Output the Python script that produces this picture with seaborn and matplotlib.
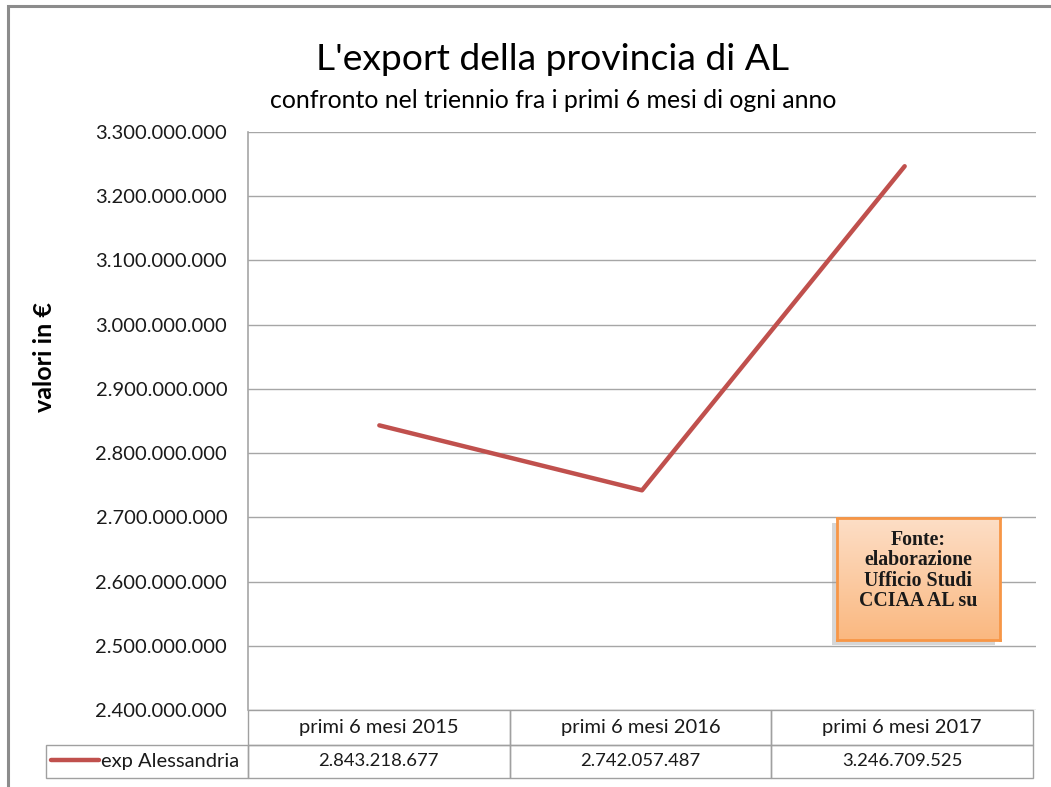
import matplotlib
matplotlib.use("Agg")
import matplotlib.pyplot as plt
import matplotlib.patches as mpatches
from matplotlib.ticker import FuncFormatter, MultipleLocator
import numpy as np
import pandas as pd
import seaborn as sns

# ---- data ----
categories = ["primi 6 mesi 2015", "primi 6 mesi 2016", "primi 6 mesi 2017"]
series_name = "exp Alessandria"
values = [2843218677, 2742057487, 3246709525]
title = "L'export della provincia di AL"
subtitle = "confronto nel triennio fra i primi 6 mesi di ogni anno"
ylabel = "valori in €"
note = "Fonte:\nelaborazione\nUfficio Studi\nCCIAA AL su"

sns.set_theme(style="white")
plt.rcParams["font.family"] = ["Lato", "DejaVu Sans"]

W, H = 1051, 787
fig = plt.figure(figsize=(W / 100, H / 100), dpi=100)

def fx(px):
    return px / W

def fy(py):
    return 1 - py / H

def it_fmt(v):
    return f"{int(round(v)):,}".replace(",", ".")

# outer chart border (cropped on right/bottom)
fig.patches.append(mpatches.Rectangle((fx(8), -0.05), 1.2, fy(6) + 0.05,
                                      transform=fig.transFigure, fill=False,
                                      edgecolor="#8c8c8c", lw=2.2, zorder=0))

L, R, T, B = 248, 1036, 132, 710
ax = fig.add_axes([fx(L), fy(B), fx(R) - fx(L), fy(T) - fy(B)])

df = pd.DataFrame({"periodo": categories, "valore": values, "serie": series_name})
sns.lineplot(data=df, x="periodo", y="valore", ax=ax, color="#C0504D",
             linewidth=3.2, label=series_name, sort=False)

ax.set_xlim(-0.5, len(categories) - 0.5)
ax.set_ylim(2.4e9, 3.3e9)
ax.yaxis.set_major_locator(MultipleLocator(1e8))
ax.yaxis.set_major_formatter(FuncFormatter(lambda v, p: it_fmt(v)))
grid_c = "#a6a6a6"
ax.grid(axis="y", color=grid_c, lw=1)
ax.grid(axis="x", visible=False)
ax.set_xticks([])
ax.set_xlabel("")
ax.set_ylabel("")
ax.tick_params(axis="y", length=0, pad=15, labelsize=14.5, labelcolor="#1a1a1a")
for s in ["top", "right", "bottom"]:
    ax.spines[s].set_visible(False)
ax.spines["left"].set_color(grid_c)
ax.spines["left"].set_linewidth(1.2)

# titles
fig.text(fx(553), fy(60), title, ha="center", va="center", fontsize=26.8, color="#000000")
fig.text(fx(553), fy(100), subtitle, ha="center", va="center", fontsize=17.9, color="#000000")
fig.text(fx(45), fy(357), ylabel, ha="center", va="center", rotation=90,
         fontsize=18, fontweight="bold", color="#000000")

# ---- data table under the plot (drawn in axes coordinates) ----
axw = R - L
axh = B - T

def axx(px):
    return (px - L) / axw

def axy(py):
    return (B - py) / axh

edge = "#a0a0a0"
tab_l, tab_r = 46, 1033
row0_t, row0_b, row1_b = 710, 745, 778
col_edges = np.linspace(L, tab_r, len(categories) + 1)

def cell(x0, x1, y0, y1):
    ax.add_patch(mpatches.Rectangle((axx(x0), axy(y1)), axx(x1) - axx(x0), axy(y0) - axy(y1),
                                    transform=ax.transAxes, fill=False, edgecolor=edge,
                                    lw=1, clip_on=False))

for j, c in enumerate(categories):
    xa, xb = col_edges[j], col_edges[j + 1]
    cell(xa, xb, row0_t, row0_b)
    cell(xa, xb, row0_b, row1_b)
    xm = axx((xa + xb) / 2)
    ax.text(xm, axy((row0_t + row0_b) / 2), c, transform=ax.transAxes, ha="center",
            va="center", fontsize=14.5, color="#1a1a1a", clip_on=False)
    ax.text(xm, axy((row0_b + row1_b) / 2), it_fmt(values[j]), transform=ax.transAxes,
            ha="center", va="center", fontsize=13.3, color="#1a1a1a", clip_on=False)
cell(tab_l, L, row0_b, row1_b)

# legend key inside the row label cell
leg = ax.legend(loc="center left", bbox_to_anchor=(axx(51), axy(761.5)),
                frameon=False, fontsize=14.5, handlelength=2.4, handletextpad=0.1,
                borderpad=0, borderaxespad=0)
for t in leg.get_texts():
    t.set_color("#1a1a1a")

# note box with gradient and shadow
bx0, by0, bx1, by1 = 837, 518, 1000, 640
fig.patches.append(mpatches.Rectangle((fx(bx0 - 5), fy(by1 + 5)), fx(bx1 - bx0), fy(by0) - fy(by1),
                                      transform=fig.transFigure, facecolor="#9a9a9a",
                                      edgecolor="none", alpha=0.4, zorder=3))
bax = fig.add_axes([fx(bx0), fy(by1), fx(bx1 - bx0), fy(by0) - fy(by1)], zorder=5)
top_c = np.array([253, 222, 198]) / 255
bot_c = np.array([250, 184, 128]) / 255
tgrad = np.linspace(0, 1, 100)[:, None]
grad = top_c[None, :] * (1 - tgrad) + bot_c[None, :] * tgrad
bax.imshow(grad[:, None, :].repeat(2, axis=1), aspect="auto", extent=[0, 1, 0, 1], origin="upper")
bax.set_xticks([])
bax.set_yticks([])
for s in bax.spines.values():
    s.set_color("#F79646")
    s.set_linewidth(2)
bax.text(0.5, 0.57, note, ha="center", va="center", fontsize=14.3, fontweight="bold",
         family=["Liberation Serif", "DejaVu Serif"], color="#1a1a1a", linespacing=1.02,
         transform=bax.transAxes)

fig.savefig("out.png", dpi=100)
